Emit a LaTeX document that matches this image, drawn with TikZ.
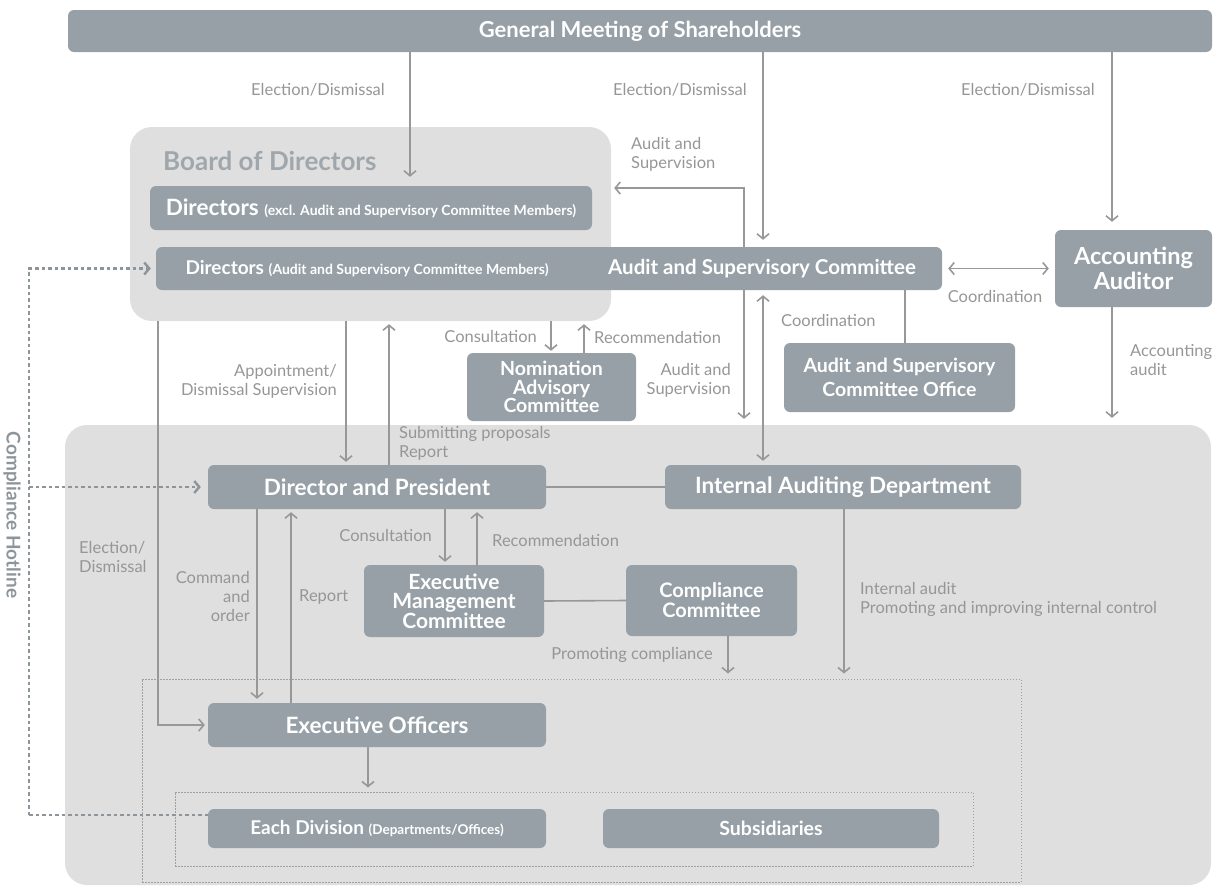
\documentclass[tikz,border=0pt]{standalone}
\usepackage{fontspec}
\setmainfont{Lato}
\usetikzlibrary{calc,positioning,arrows.meta}

\definecolor{boxc}{RGB}{150,160,166}
\definecolor{panelc}{RGB}{223,223,223}
\definecolor{linec}{RGB}{152,152,152}
\definecolor{labc}{RGB}{150,150,150}
\definecolor{titlec}{RGB}{160,167,172}
\definecolor{hotc}{RGB}{142,149,154}
\definecolor{grpc}{RGB}{160,160,160}

\tikzset{
  boxtxt/.style={text=white, font=\bfseries\fontsize{22.5}{24}\selectfont, inner sep=0pt},
  box/.style={boxtxt, fill=boxc, rounded corners=6pt, align=center},
  panel/.style={fill=panelc, rounded corners=22pt, inner sep=0pt},
  group/.style={draw=grpc, line width=1pt, dash pattern=on 1.5pt off 1.5pt, inner sep=0pt},
  lbl/.style={text=labc, font=\fontsize{16.5}{19}\selectfont, inner sep=0pt},
  conn/.style={draw=linec, line width=1.6pt},
  hotline/.style={draw=hotc, line width=2.4pt, dash pattern=on 3.5pt off 3pt},
}

\begin{document}
\begin{tikzpicture}[x=1pt,y=-1pt,>={Straight Barb[length=5pt,width=12pt]}]
\useasboundingbox (0,0) rectangle (1213,895);

\node[panel, minimum width=481pt, minimum height=194pt] (board) at (370.5,224) {};
\node[panel, minimum width=1146pt, minimum height=460pt] (low) at (638,655) {};
\node[anchor=west, text=titlec, font=\bfseries\fontsize{26}{28}\selectfont, inner sep=0pt] (boardt) at (163,161) {Board of Directors};

\node[group, minimum width=879pt, minimum height=203pt] (grp) at (581.5,780.5) {};
\node[group, minimum width=798pt, minimum height=74pt] (units) at (574,829) {};

% boxes
\node[box, minimum width=1144pt, minimum height=42pt, font=\bfseries\fontsize{22}{24}\selectfont] (gms) at (640,31) {General Meeting of Shareholders};
\node[box, minimum width=442pt, minimum height=44pt] (dirx) at (371,208) {Directors {\fontsize{14}{16}\selectfont (excl. Audit and Supervisory Committee Members)}};
\node[box, minimum width=786pt, minimum height=43pt] (dira) at (549,268.5) {};
\node[boxtxt, font=\bfseries\fontsize{19}{21}\selectfont] (dirat) at (367,268.5) {Directors {\fontsize{14}{16}\selectfont (Audit and Supervisory Committee Members)}};
\node[boxtxt, font=\bfseries\fontsize{20.5}{22}\selectfont] (asc) at (762,268.5) {Audit and Supervisory Committee};
\node[box, minimum width=157pt, minimum height=77pt, font=\bfseries\fontsize{23.5}{25}\selectfont] (aa) at (1133.5,268.5) {Accounting\\Auditor};
\node[box, minimum width=231pt, minimum height=69pt, font=\bfseries\fontsize{19.5}{24}\selectfont] (aso) at (899.5,377.5) {Audit and Supervisory\\Committee Office};
\node[box, minimum width=169pt, minimum height=68pt, font=\bfseries\fontsize{19.5}{18.5}\selectfont] (nac) at (551.5,387) {Nomination\\Advisory\\Committee};
\node[box, minimum width=338pt, minimum height=44pt] (dp) at (377,487) {Director and President};
\node[box, minimum width=356pt, minimum height=44pt] (iad) at (843,487) {Internal Auditing Department};
\node[box, minimum width=180pt, minimum height=72pt, font=\bfseries\fontsize{21}{19.5}\selectfont] (emc) at (454,601) {Executive\\Management\\Committee};
\node[box, minimum width=171pt, minimum height=71pt, font=\bfseries\fontsize{20}{20}\selectfont] (cc) at (711.5,600.5) {Compliance\\Committee};
\node[box, minimum width=338pt, minimum height=44pt] (eo) at (377,725) {Executive Officers};
\node[box, minimum width=338pt, minimum height=39pt, font=\bfseries\fontsize{19}{21}\selectfont] (ed) at (377,828.5) {Each Division {\fontsize{13.5}{15}\selectfont (Departments/Offices)}};
\node[box, minimum width=336pt, minimum height=39pt, font=\bfseries\fontsize{19.5}{21}\selectfont] (sub) at (771,828.5) {Subsidiaries};

% shareholders
\draw[conn,->,shorten >=9pt] (410,0 |- gms.south) -- (410,0 |- dirx.north);
\draw[conn,->,shorten >=7pt] (763,0 |- gms.south) -- (763,0 |- dira.north);
\draw[conn,->,shorten >=8pt] (1112,0 |- gms.south) -- (1112,0 |- aa.north);
\node[lbl] (elec1) at (318,90) {Election/Dismissal};
\node[lbl] (elec2) at (680,90) {Election/Dismissal};
\node[lbl] (elec3) at (1028,90) {Election/Dismissal};

% audit and supervisory committee
\coordinate (supr) at (744,188);
\draw[conn,->,shorten >=3pt] (744,0 |- dira.north) |- (board.east |- supr);
\node[lbl, anchor=west, align=left] (sup1) at (631,154) {Audit and\\Supervision};
\draw[conn,<->,shorten <=6pt,shorten >=6pt] (dira.east) -- (aa.west);
\node[lbl] (coord1) at (995,296) {Coordination};
\draw[conn,->,shorten >=6pt] (744,0 |- dira.south) -- (744,0 |- low.north);
\node[lbl, anchor=east, align=right] (sup2) at (731,380) {Audit and\\Supervision};
\draw[conn,<->,shorten <=5pt,shorten >=4pt] (763,0 |- dira.south) -- (763,0 |- iad.north);
\node[lbl, anchor=west] (coord2) at (781,320) {Coordination};
\draw[conn] (905,0 |- dira.south) -- (905,0 |- aso.north);
\draw[conn,->,shorten >=7pt] (aa.south -| 1112,0) -- (1112,0 |- low.north);
\node[lbl, anchor=west, align=left] (accaud) at (1130,360) {Accounting\\audit};

% board and nomination
\draw[conn,->,shorten >=2pt] (551,0 |- board.south) -- (551,0 |- nac.north);
\draw[conn,->,shorten >=3pt] (584,0 |- nac.north) -- (584,0 |- board.south);
\node[lbl, anchor=east] (cons1) at (537,336) {Consultation};
\node[lbl, anchor=west] (rec1) at (594,337) {Recommendation};

% board and president
\draw[conn,->,shorten >=3pt] (346,0 |- board.south) -- (346,0 |- dp.north);
\draw[conn,->,shorten >=3pt] (389,0 |- dp.north) -- (389,0 |- board.south);
\node[lbl, anchor=east, align=right] (appt) at (337,381) {Appointment/\\Dismissal Supervision};
\node[lbl, anchor=west, align=left] (subm) at (399,443) {Submitting proposals\\Report};
\draw[conn,->,shorten >=3pt] (158,0 |- board.south) |- (eo.west);
\node[lbl, anchor=west, align=left] (elec4) at (79,557) {Election/\\Dismissal};

% executive side
\draw[conn] (dp.east) -- (iad.west);
\draw[conn,->,shorten >=3pt] (445,0 |- dp.south) -- (445,0 |- emc.north);
\draw[conn,->,shorten >=3pt] (477,0 |- emc.north) -- (477,0 |- dp.south);
\node[lbl, anchor=east] (cons2) at (432,535) {Consultation};
\node[lbl, anchor=west] (rec2) at (492,540) {Recommendation};
\draw[conn] (emc.east) -- (cc.west);
\draw[conn,->,shorten >=5pt] (728,0 |- cc.south) -- (728,0 |- grp.north);
\node[lbl, anchor=east] (promc) at (713,655) {Promoting compliance};
\draw[conn,->,shorten >=5pt] (844,0 |- iad.south) -- (844,0 |- grp.north);
\node[lbl, anchor=west, align=left] (intaud) at (860,599) {Internal audit\\Promoting and improving internal control};
\draw[conn,->,shorten >=4pt] (257,0 |- dp.south) -- (257,0 |- eo.north);
\draw[conn,->,shorten >=3pt] (291,0 |- eo.north) -- (291,0 |- dp.south);
\node[lbl, anchor=east, align=right] (cmd) at (250,596) {Command\\and\\order};
\node[lbl, anchor=west] (rep) at (299,597) {Report};
\draw[conn,->,shorten >=4pt] (368,0 |- eo.south) -- (368,0 |- units.north);

% compliance hotline
\coordinate (hl) at (29,815);
\draw[hotline] (hl) -- ([yshift=13.5pt]ed.west);
\draw[hotline,->,shorten >=5pt] (hl) |- (dira.west);
\draw[hotline,->,shorten >=7pt] (hl |- dp.west) -- (dp.west);
\node[text=hotc, font=\bfseries\fontsize{19}{21}\selectfont, rotate=-90, inner sep=0pt] (hotl) at (12,515) {Compliance Hotline};

\end{tikzpicture}
\end{document}
